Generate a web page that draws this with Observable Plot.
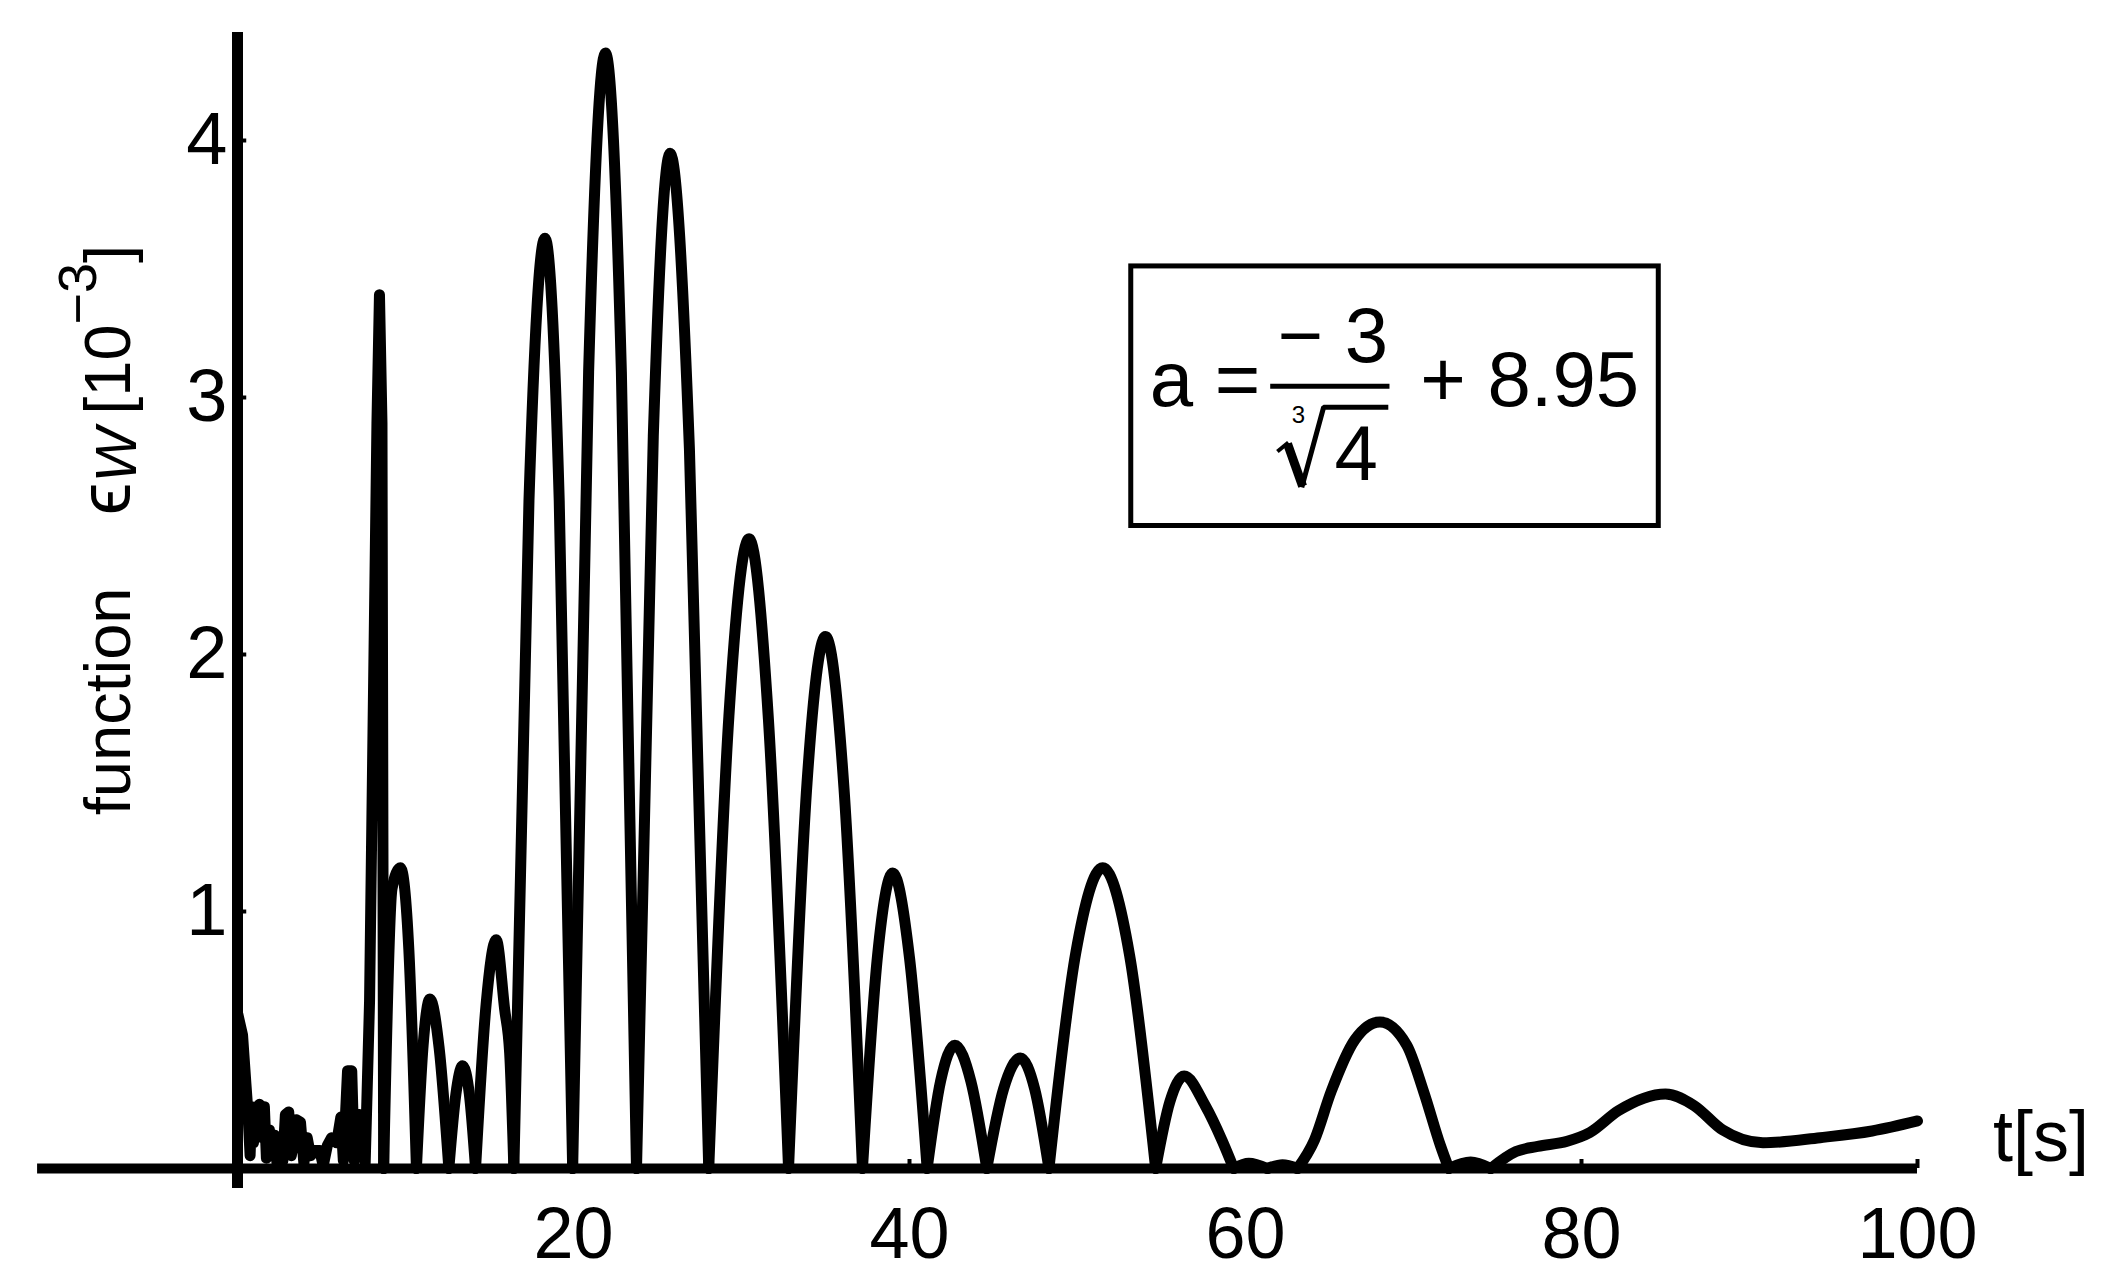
<!DOCTYPE html>
<html><head><meta charset="utf-8">
<script src="https://cdn.jsdelivr.net/npm/d3@7"></script>
<script src="https://cdn.jsdelivr.net/npm/@observablehq/plot@0.6"></script>
<style>html,body{margin:0;padding:0;background:#fff;overflow:hidden}</style>
</head><body><div id="chart"></div><script>
// ---- data (t in s, eps in 10^-3) ----
const tNoise = [0.02,0.3,0.5,0.62,0.75,0.85,0.95,1.1,1.3,1.45,1.6,1.72,1.9,2.05,2.2,2.35,2.55,2.7,2.85,3.05,3.2,3.35,3.5,3.75,3.95,4.15,4.35,4.6,4.9,5.1,5.35,5.6,5.9,6.15,6.3,6.55,6.8,6.95,7.25,7.45,7.6,7.86,8.3,8.45,8.6,8.7];
const epsNoise = [0.60,0.52,0.33,0.22,0.05,0.24,0.10,0.22,0.25,0.12,0.24,0.04,0.15,0.07,0.13,0.02,0.09,0.03,0.21,0.22,0.05,0.10,0.19,0.18,0.02,0.12,0.05,0.07,0.07,0.01,0.09,0.12,0.10,0.20,0.03,0.38,0.38,0.03,0.21,0.19,0.02,0.65,2.9,3.40,2.9,0];
const tMain = [8.7,9.2,9.7,10.2,10.65, 11.05,11.45,12.0,12.58, 13.0,13.4,13.8,14.17, 14.8,15.4,15.9,16.2,16.45,
  17.35,18.3,19.15,19.95, 20.9,21.9,22.85,23.75, 24.75,25.75,26.9,28.05, 29.25,30.45,31.6,32.8,
  33.9,35.0,36.1,37.2, 38.1,39.0,40.0,41.05, 41.85,42.7,43.65,44.6, 45.6,46.6,47.45,48.3,
  49.9,51.5,53.1,54.65, 55.5,56.35,57.6,58.6,59.3, 60.2,61.3, 62.2,63.1,
  64.1,65.1,66.5,68.0,69.6,70.6,71.6,72.1, 73.4,74.6,
  76.1,77.4,79.15,80.5,82.2,85.0,86.7,88.4,90.8,94.2,97.3,100];
const epsMain = [0,1.09,1.17,0.85,0, 0.48,0.66,0.47,0, 0.29,0.40,0.29,0, 0.64,0.89,0.62,0.45,0,
  2.6,3.62,2.6,0, 3.1,4.34,3.1,0, 2.85,3.95,2.8,0, 1.76,2.45,1.75,0,
  1.5,2.07,1.48,0, 0.83,1.15,0.82,0, 0.34,0.48,0.34,0, 0.31,0.43,0.31,0,
  0.84,1.17,0.83,0, 0.26,0.36,0.245,0.11,0, 0.02,0, 0.015,0,
  0.11,0.30,0.50,0.57,0.48,0.30,0.09,0, 0.025,0,
  0.066,0.086,0.106,0.14,0.225,0.29,0.245,0.15,0.10,0.12,0.146,0.185];
const xTicks = [20, 40, 60, 80, 100];
const yTicks = [1, 2, 3, 4];
const xAxisSpan = [-11.9, 100];
const yAxisSpan = [-0.078, 4.42];
const xLabel = "t[s]";
const formulaParts = ["a =", "\u2212 3", "3", "4", "+ 8.95"];

// ---- rows ----
const noiseRows = tNoise.map((t, i) => ({t, e: epsNoise[i]}));
const mainRows = [];
let seg = 0;
tMain.forEach((t, i) => {
  const e = epsMain[i];
  mainRows.push({t, e, seg});
  if (e === 0 && i > 0 && i < tMain.length - 1) { seg++; mainRows.push({t, e, seg}); }
});

const FONT = "'Liberation Sans', Arial, Helvetica, sans-serif";
const SW = 11;
const FS = 72;   // tick labels
const BF = 78;   // formula
const txt = (s, x, y, size, anchor = "start") =>
  Plot.text([s], {x, y, text: d => d, textAnchor: anchor, lineAnchor: "bottom", fontSize: size, fill: "black"});

const plot = Plot.plot({
  width: 2117, height: 1274,
  marginLeft: 237, marginRight: 200, marginTop: 140, marginBottom: 106,
  x: {domain: [0, 100], axis: null},
  y: {domain: [0, 4], axis: null},
  style: {fontFamily: FONT, background: "white", color: "black", overflow: "visible"},
  marks: [
    Plot.ruleY([0], {x1: xAxisSpan[0], x2: xAxisSpan[1], stroke: "black", strokeWidth: 10}),
    Plot.ruleX([0], {y1: yAxisSpan[0], y2: yAxisSpan[1], stroke: "black", strokeWidth: 11}),
    Plot.ruleX(xTicks, {x: d => d, y1: 0, y2: 0.035, stroke: "black", strokeWidth: 4}),
    Plot.ruleY(yTicks, {y: d => d, x1: 0, x2: 0.55, stroke: "black", strokeWidth: 4}),
    Plot.line(noiseRows, {x: "t", y: "e", stroke: "black", strokeWidth: SW, curve: "linear"}),
    Plot.line(mainRows, {x: "t", y: "e", z: "seg", stroke: "black", strokeWidth: SW, curve: "monotone-x"}),
    Plot.text(xTicks, {x: d => d, y: 0, dy: 66, text: d => String(d), fontSize: FS, fill: "black"}),
    Plot.text(yTicks, {x: 0, y: d => d, dx: -10, textAnchor: "end", text: d => String(d), fontSize: 74, fill: "black"}),
    txt(xLabel, 104.5, 0.03, 72),
    // formula box
    Plot.rect([0], {x1: 53.2, x2: 84.6, y1: 2.5, y2: 3.51, fill: "none", stroke: "black", strokeWidth: 5}),
    txt(formulaParts[0], 54.3, 2.966, BF),
    txt(formulaParts[1], 61.9, 3.14, BF),
    Plot.ruleY([3.044], {x1: 61.5, x2: 68.6, stroke: "black", strokeWidth: 5}),
    // radical sign (drawn) with overbar
    Plot.line([[61.9, 2.79], [62.55, 2.825]], {x: d => d[0], y: d => d[1], stroke: "black", strokeWidth: 4, strokeLinecap: "butt"}),
    Plot.line([[62.5, 2.82], [63.4, 2.655]], {x: d => d[0], y: d => d[1], stroke: "black", strokeWidth: 9, strokeLinecap: "butt"}),
    Plot.line([[63.35, 2.65], [64.65, 2.962], [68.5, 2.962]], {x: d => d[0], y: d => d[1], stroke: "black", strokeWidth: 5, strokeLinejoin: "miter", strokeLinecap: "butt"}),
    txt(formulaParts[2], 62.75, 2.9, 24),
    txt(formulaParts[3], 65.3, 2.68, BF),
    txt(formulaParts[4], 70.4, 2.966, BF)
  ]
});

// y-axis label with sub/superscripts
const svg = d3.select(plot);
const lab = svg.append("text")
  .attr("transform", "translate(130,530) rotate(-90)")
  .attr("text-anchor", "middle")
  .attr("font-family", FONT)
  .attr("font-size", 65)
  .attr("fill", "black");
lab.append("tspan").text("function\u00A0\u00A0\u00A0\u00A0");
lab.append("tspan").attr("font-size", 74).text("\u03F5");
lab.append("tspan").attr("font-size", 58).attr("font-style", "italic").attr("dy", 6).text("W");
lab.append("tspan").attr("dy", -6).text("\u2009[10");
lab.append("tspan").attr("font-size", 54).attr("dy", -34).text("\u22123");
lab.append("tspan").attr("dy", 34).text("]");

document.getElementById("chart").appendChild(plot);
</script></body></html>
